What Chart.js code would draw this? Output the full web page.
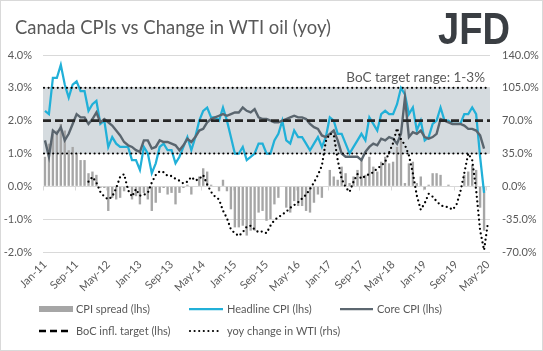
<!DOCTYPE html>
<html>
<head>
<meta charset="utf-8">
<script src="https://cdn.jsdelivr.net/npm/chart.js@4.4.1/dist/chart.umd.min.js"></script>
<style>
  html, body { margin: 0; padding: 0; background: #fff; }
  canvas { display: block; }
</style>
</head>
<body>
<canvas id="cpiChart" width="543" height="351"></canvas>
<script>
// Canada CPIs vs WTI oil, monthly Jan-11 .. May-20
const months = [
  'Jan-11','Feb-11','Mar-11','Apr-11','May-11','Jun-11','Jul-11','Aug-11','Sep-11','Oct-11','Nov-11','Dec-11',
  'Jan-12','Feb-12','Mar-12','Apr-12','May-12','Jun-12','Jul-12','Aug-12','Sep-12','Oct-12','Nov-12','Dec-12',
  'Jan-13','Feb-13','Mar-13','Apr-13','May-13','Jun-13','Jul-13','Aug-13','Sep-13','Oct-13','Nov-13','Dec-13',
  'Jan-14','Feb-14','Mar-14','Apr-14','May-14','Jun-14','Jul-14','Aug-14','Sep-14','Oct-14','Nov-14','Dec-14',
  'Jan-15','Feb-15','Mar-15','Apr-15','May-15','Jun-15','Jul-15','Aug-15','Sep-15','Oct-15','Nov-15','Dec-15',
  'Jan-16','Feb-16','Mar-16','Apr-16','May-16','Jun-16','Jul-16','Aug-16','Sep-16','Oct-16','Nov-16','Dec-16',
  'Jan-17','Feb-17','Mar-17','Apr-17','May-17','Jun-17','Jul-17','Aug-17','Sep-17','Oct-17','Nov-17','Dec-17',
  'Jan-18','Feb-18','Mar-18','Apr-18','May-18','Jun-18','Jul-18','Aug-18','Sep-18','Oct-18','Nov-18','Dec-18',
  'Jan-19','Feb-19','Mar-19','Apr-19','May-19','Jun-19','Jul-19','Aug-19','Sep-19','Oct-19','Nov-19','Dec-19',
  'Jan-20','Feb-20','Mar-20','Apr-20','May-20'
];

// headline CPI yoy (%), lhs
const headlineCpi = [
  2.3, 2.2, 3.3, 3.3, 3.7, 3.1, 2.7, 3.1, 3.2, 2.9, 2.9, 2.3,
  2.5, 2.6, 1.9, 2.0, 1.2, 1.5, 1.3, 1.2, 1.2, 1.2, 0.8, 0.8,
  0.5, 1.2, 1.0, 0.4, 0.7, 1.2, 1.3, 1.1, 1.1, 0.7, 0.9, 1.2,
  1.5, 1.1, 1.5, 2.0, 2.3, 2.4, 2.1, 2.1, 2.0, 2.4, 2.0, 1.5,
  1.0, 1.0, 1.2, 0.8, 0.9, 1.0, 1.3, 1.3, 1.0, 1.0, 1.4, 1.6,
  2.0, 1.4, 1.3, 1.7, 1.5, 1.5, 1.3, 1.1, 1.3, 1.5, 1.2, 1.5,
  2.1, 2.0, 1.6, 1.6, 1.3, 1.0, 1.2, 1.4, 1.6, 1.4, 2.1, 1.9,
  1.7, 2.2, 2.3, 2.2, 2.2, 2.5, 3.0, 2.8, 2.2, 2.4, 1.7, 2.0,
  1.4, 1.5, 1.9, 2.0, 2.4, 2.0, 2.0, 1.9, 1.9, 1.9, 2.2, 2.2,
  2.4, 2.2, 0.9, -0.2
];

// core CPI yoy (%), lhs
const coreCpi = [
  1.4, 0.9, 1.7, 1.6, 1.8, 1.4, 1.6, 1.9, 2.2, 2.1, 2.1, 1.9,
  2.05, 2.25, 1.95, 2.05, 1.95, 1.85, 1.7, 1.55, 1.35, 1.25, 1.2, 1.1,
  1.05, 1.4, 1.4, 1.15, 1.2, 1.4, 1.35, 1.35, 1.3, 1.25, 1.1, 1.25,
  1.45, 1.35, 1.5, 1.7, 1.75, 1.95, 2.05, 2.1, 2.15, 2.2, 2.15, 2.2,
  2.25, 2.25, 2.4, 2.3, 2.25, 2.35, 2.1, 2.05, 2.05, 2.0, 1.95, 1.95,
  2.0, 2.05, 2.1, 2.15, 2.1, 2.1, 2.05, 1.9, 1.8, 1.75, 1.55, 1.5,
  1.6, 1.7, 1.4, 1.0, 0.9, 0.9, 0.9, 0.9, 0.8, 1.05, 1.2, 1.3,
  1.25, 1.45, 1.4, 1.5, 1.45, 1.3, 1.6, 2.7, 1.5, 1.65, 1.6, 1.7,
  1.5, 1.45, 1.5, 1.6, 2.05, 2.0, 1.95, 1.9, 1.9, 1.9, 1.85, 1.75,
  1.75, 1.7, 1.55, 1.15
];

// headline minus core (pp), lhs bars
const cpiSpread = [
  0.9, 1.3, 1.6, 1.7, 1.9, 1.7, 1.1, 1.2, 1.0, 0.8, 0.8, 0.4,
  0.45, 0.35, -0.05, -0.05, -0.75, -0.35, -0.4, -0.35, -0.15, -0.05, -0.4, -0.3,
  -0.55, -0.2, -0.4, -0.75, -0.5, -0.2, -0.05, -0.25, -0.2, -0.55, -0.2, -0.05,
  0.05, -0.25, 0.0, 0.3, 0.55, 0.45, 0.05, 0.0, -0.15, 0.2, -0.15, -0.7,
  -1.25, -1.25, -1.2, -1.5, -1.35, -1.35, -0.8, -0.75, -1.05, -1.0, -0.55, -0.35,
  0.0, -0.65, -0.8, -0.45, -0.6, -0.6, -0.75, -0.8, -0.5, -0.25, -0.35, 0.0,
  0.5, 0.3, 0.2, 0.6, 0.4, 0.1, 0.3, 0.5, 0.8, 0.35, 0.9, 0.6,
  0.45, 0.75, 0.9, 0.7, 0.75, 1.2, 1.4, 0.1, 0.7, 0.75, 0.1, 0.3,
  -0.1, 0.05, 0.4, 0.4, 0.35, 0.0, 0.05, 0.0, 0.0, 0.0, 0.35, 0.45,
  0.65, 0.5, -0.65, -1.35
];

// WTI yoy change (%), rhs
const wtiYoy = [
  null, null, null, null, null, null, null, null, null, null, null, 5,
  10, 4, -6, -11, -14, -11, -2, 10, 13, -4, -11, -3,
  -10, -9, -7, 4, 12, 16, 15, 11, 11, 8, 6, 3,
  5, 10, 6, 8, 12, 2, -6, -11, -14, -26, -34, -46,
  -50, -53, -49, -43, -42, -46, -49, -48, -50, -42, -36, -33,
  -30, -27, -23, -20, -17, -13, -9, -3, 4, 12, 22, 48,
  56, 55, 28, 8, -1, -6, 5, 13, 8, 11, 13, 15,
  19, 22, 26, 36, 46, 62, 50, 44, 33, 14, -10, -25,
  -18, -8, -11, -16, -20, -22, -22, -25, -20, -6, 14, 35,
  28, -4, -47, -68, -38
];

const bocTarget = 2.0;
const bocRange = [1.0, 3.0];
const leftTicks = { min: -2, max: 4, step: 1 };
const rightTicks = { min: -70, max: 140, step: 35 };

const FONT = 'Lato';
const TEXT = '#595959';

// band, target lines, axis ticks, title, logo and legend
const decor = {
  id: 'decor',
  beforeDatasetsDraw(chart) {
    const { ctx, chartArea: a, scales } = chart;
    const y = scales.y;
    ctx.save();
    ctx.fillStyle = '#d5dbdf';
    const top = y.getPixelForValue(bocRange[1]);
    const bot = y.getPixelForValue(bocRange[0]);
    ctx.fillRect(a.left, top, a.right - a.left, bot - top);
    // small tick marks on the zero line
    const x = scales.x;
    const half = (x.getPixelForValue(1) - x.getPixelForValue(0)) / 2;
    const y0 = Math.round(y.getPixelForValue(0)) + 0.5;
    ctx.strokeStyle = '#d9d9d9';
    ctx.lineWidth = 1;
    ctx.beginPath();
    ctx.moveTo(a.left, y0);
    ctx.lineTo(a.right, y0);
    for (let i = 0; i < months.length; i += 8) {
      const px = Math.round(x.getPixelForValue(i) - half) + 0.5;
      ctx.moveTo(px, y0);
      ctx.lineTo(px, y0 + 4);
    }
    ctx.stroke();
    ctx.restore();
  },
  afterDatasetDraw(chart, args) {
    if (args.index !== 2) return;
    const { ctx, chartArea: a, scales } = chart;
    const y = scales.y;
    ctx.save();
    ctx.strokeStyle = '#000';
    ctx.lineCap = 'round';
    ctx.lineWidth = 2.2;
    ctx.setLineDash([0, 4.6]);
    bocRange.forEach(v => {
      const py = y.getPixelForValue(v);
      ctx.beginPath();
      ctx.moveTo(a.left + 1, py);
      ctx.lineTo(a.right, py);
      ctx.stroke();
    });
    ctx.lineCap = 'butt';
    ctx.lineWidth = 2.6;
    ctx.strokeStyle = '#262626';
    ctx.setLineDash([8, 4]);
    const py = y.getPixelForValue(bocTarget);
    ctx.beginPath();
    ctx.moveTo(a.left, py);
    ctx.lineTo(a.right, py);
    ctx.stroke();
    ctx.restore();
  },
  afterDraw(chart) {
    const { ctx } = chart;
    ctx.save();
    // frame
    ctx.strokeStyle = '#d9d9d9';
    ctx.lineWidth = 1;
    ctx.strokeRect(0.5, 0.5, chart.width - 1, chart.height - 1);

    // title
    ctx.fillStyle = TEXT;
    ctx.textBaseline = 'alphabetic';
    ctx.font = '19.5px ' + FONT;
    const title = 'Canada CPIs vs Change in WTI oil (yoy)';
    const tw = ctx.measureText(title).width;
    ctx.save();
    ctx.translate(15, 34);
    ctx.scale(316 / tw, 1);
    ctx.fillText(title, 0, 0);
    ctx.restore();

    // logo
    ctx.fillStyle = '#3a3e43';
    ctx.font = 'bold 44px "Liberation Sans"';
    const lw = ctx.measureText('JFD').width;
    ctx.save();
    ctx.translate(438, 44);
    ctx.scale(72 / lw, 1);
    ctx.fillText('JFD', 0, 0);
    ctx.restore();

    // range note
    ctx.fillStyle = TEXT;
    ctx.font = '13.5px ' + FONT;
    ctx.textAlign = 'right';
    ctx.fillText('BoC target range: 1-3%', 485, 82);

    // legend
    ctx.textAlign = 'left';
    ctx.textBaseline = 'middle';
    ctx.font = '11px ' + FONT;
    const r1 = 309, r2 = 331;
    ctx.fillStyle = '#a6a6a6';
    ctx.fillRect(39, r1 - 3, 34, 6);
    ctx.fillStyle = TEXT;
    ctx.fillText('CPI spread (lhs)', 76, r1);

    ctx.lineWidth = 2.25;
    ctx.strokeStyle = '#21b0d8';
    ctx.beginPath(); ctx.moveTo(189, r1); ctx.lineTo(223, r1); ctx.stroke();
    ctx.fillText('Headline CPI (lhs)', 227, r1);

    ctx.strokeStyle = '#5c6770';
    ctx.beginPath(); ctx.moveTo(340, r1); ctx.lineTo(373, r1); ctx.stroke();
    ctx.fillText('Core CPI (lhs)', 377, r1);

    ctx.strokeStyle = '#000';
    ctx.lineWidth = 2.6;
    ctx.setLineDash([7, 4]);
    ctx.beginPath(); ctx.moveTo(39, r2); ctx.lineTo(69, r2); ctx.stroke();
    ctx.fillText('BoC infl. target (lhs)', 76, r2);

    ctx.lineWidth = 2.2;
    ctx.lineCap = 'round';
    ctx.setLineDash([0, 4.6]);
    ctx.beginPath(); ctx.moveTo(190, r2); ctx.lineTo(220, r2); ctx.stroke();
    ctx.fillText('yoy change in WTI (rhs)', 227, r2);
    ctx.restore();
  }
};

const tickFont = { family: FONT, size: 11 };

new Chart(document.getElementById('cpiChart'), {
  data: {
    labels: months,
    datasets: [
      {
        type: 'bar',
        label: 'CPI spread (lhs)',
        data: cpiSpread,
        backgroundColor: '#a6a6a6',
        barPercentage: 0.6,
        categoryPercentage: 1,
        yAxisID: 'y',
        order: 5
      },
      {
        type: 'line',
        label: 'Headline CPI (lhs)',
        data: headlineCpi,
        borderColor: '#21b0d8',
        borderWidth: 2.25,
        pointRadius: 0,
        tension: 0,
        yAxisID: 'y',
        order: 4
      },
      {
        type: 'line',
        label: 'Core CPI (lhs)',
        data: coreCpi,
        borderColor: '#5a656e',
        borderWidth: 2.4,
        pointRadius: 0,
        tension: 0,
        yAxisID: 'y',
        order: 3
      },
      {
        type: 'line',
        label: 'yoy change in WTI (rhs)',
        data: wtiYoy,
        borderColor: '#000',
        borderWidth: 2.3,
        borderDash: [0, 4.6],
        borderCapStyle: 'round',
        pointRadius: 0,
        tension: 0,
        yAxisID: 'y1',
        order: 1
      }
    ]
  },
  options: {
    responsive: false,
    animation: false,
    devicePixelRatio: 1,
    layout: { padding: { top: 55, left: 0, right: 0, bottom: 59 } },
    plugins: { legend: { display: false }, tooltip: { enabled: false } },
    scales: {
      x: {
        offset: true,
        grid: { display: false, drawTicks: false },
        border: { display: false },
        ticks: {
          autoSkip: false,
          maxRotation: 45,
          minRotation: 45,
          padding: 6,
          color: TEXT,
          font: tickFont,
          callback: (v, i) => (i % 8 === 0 ? months[i] : '')
        },
        afterFit: s => { s.height = 40; }
      },
      y: {
        position: 'left',
        min: leftTicks.min,
        max: leftTicks.max,
        ticks: {
          stepSize: leftTicks.step,
          padding: 11,
          color: TEXT,
          font: tickFont,
          callback: v => v.toFixed(1) + '%'
        },
        grid: { color: '#d9d9d9', drawTicks: false },
        border: { display: false },
        afterFit: s => { s.width = 43; }
      },
      y1: {
        position: 'right',
        min: rightTicks.min,
        max: rightTicks.max,
        ticks: {
          stepSize: rightTicks.step,
          padding: 12,
          color: TEXT,
          font: tickFont,
          callback: v => v.toFixed(1) + '%'
        },
        grid: { drawOnChartArea: false, drawTicks: false },
        border: { display: false },
        afterFit: s => { s.width = 53; }
      }
    }
  },
  plugins: [decor]
});
</script>
</body>
</html>
